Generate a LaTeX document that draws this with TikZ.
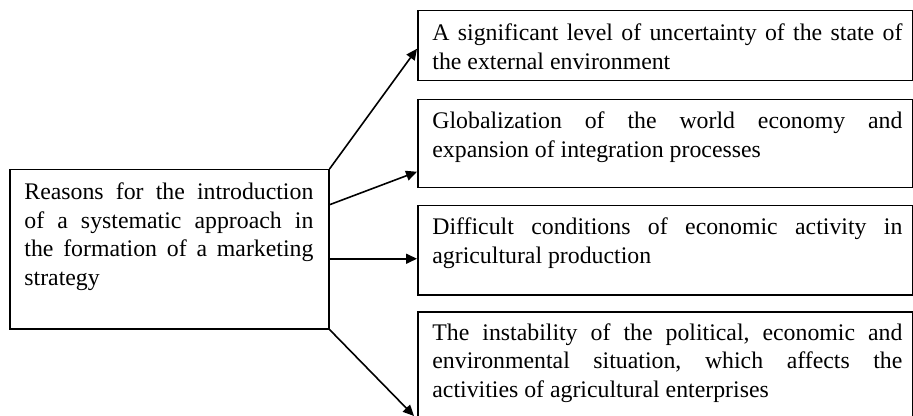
\documentclass[tikz,border=0pt]{standalone}
\usepackage{fontspec}
\setmainfont{Liberation Serif}
\usetikzlibrary{arrows.meta,calc}
\hyphenpenalty=10000
\frenchspacing
\tikzset{
  box/.style={draw, line width=0.75pt, inner sep=0pt, anchor=north west},
  txt/.style={inner sep=0pt, anchor=base west, align=justify,
    font=\fontsize{11.9pt}{14.3pt}\selectfont},
  conn/.style={line width=0.8pt, -{Triangle[length=5.5pt,width=5pt]}}
}
\begin{document}
\begin{tikzpicture}[x=0.5pt,y=-0.5pt]
\clip (0,0) rectangle (913,416);
% boxes
\node[box, minimum width=159.5pt, minimum height=79.5pt] (L) at (9,169) {};
\node[box, minimum width=247.5pt, minimum height=35pt] (B1) at (417,10) {};
\node[box, minimum width=247.5pt, minimum height=44pt] (B2) at (417,99) {};
\node[box, minimum width=247.5pt, minimum height=44.5pt] (B3) at (417,205) {};
\node[box, minimum width=247.5pt, minimum height=60pt] (B4) at (417,311) {};
% texts
\node[txt, text width=144.5pt] (tL) at (24,199.5) {Reasons for the introduction\linebreak of a systematic approach in\linebreak the formation of a marketing\linebreak strategy};
\node[txt, text width=235pt] (t1) at (432,40.5) {A significant level of uncertainty of the state of\linebreak the external environment};
\node[txt, text width=235pt] (t2) at (432,128.5) {Globalization of the world economy and\linebreak expansion of integration processes};
\node[txt, text width=235pt] (t3) at (432,234.5) {Difficult conditions of economic activity in\linebreak agricultural production};
\node[txt, text width=235pt] (t4) at (432,340) {The instability of the political, economic and\linebreak environmental situation, which affects the\linebreak activities of agricultural enterprises};
% connectors
\coordinate (e4) at (414,416);
\draw[conn] (L.north east) -- ([yshift=-1.5pt]B1.west);
\draw[conn] ([yshift=22.25pt]L.east) -- ([yshift=-14pt]B2.west);
\draw[conn] ([yshift=-4.75pt]L.east) -- ([yshift=-4.75pt]L.east -| B3.west);
\draw[conn] (L.south east) -- (e4);
\end{tikzpicture}
\end{document}
